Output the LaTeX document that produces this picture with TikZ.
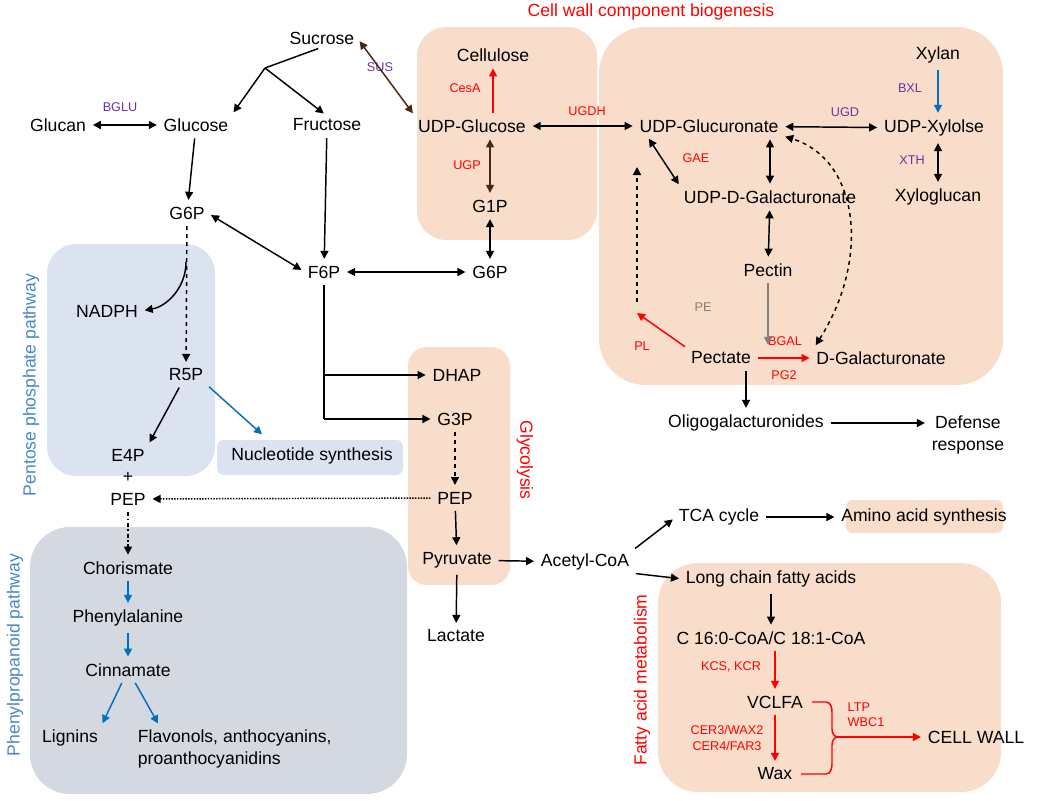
\documentclass[tikz,border=0pt]{standalone}
\usepackage{fontspec}
\setmainfont{Liberation Sans}
\usetikzlibrary{arrows.meta,positioning,calc}
\definecolor{peach}{RGB}{248,222,202}
\definecolor{ppblue}{RGB}{219,227,240}
\definecolor{ppgray}{RGB}{212,217,225}
\definecolor{enzpurple}{RGB}{112,48,160}
\definecolor{pathblue}{RGB}{74,134,200}
\definecolor{arrblue}{RGB}{0,112,192}
\definecolor{brownish}{RGB}{70,40,20}
\tikzset{
  met/.style={font=\fontsize{13.2}{16}\selectfont,inner sep=2pt},
  enz/.style={font=\fontsize{9.5}{11.5}\selectfont,inner sep=1pt},
  arr/.style={-{Triangle[length=6pt,width=6pt]},line width=1.1pt,shorten >=3pt,shorten <=3pt},
  darr/.style={{Triangle[length=6pt,width=6pt]}-{Triangle[length=6pt,width=6pt]},line width=1.1pt,shorten >=3pt,shorten <=3pt},
  box/.style={rounded corners=22pt}
}
\begin{document}
\begin{tikzpicture}[x=0.75pt,y=-0.75pt]
\useasboundingbox (0,0) rectangle (1039,800);
% backgrounds
\fill[ppblue,box] (47,244) rectangle (215,476);
\fill[ppblue,rounded corners=5pt] (217,440) rectangle (403,475);
\fill[ppgray,rounded corners=30pt] (30,527) rectangle (407,794);
\fill[peach,box] (417,27) rectangle (597,240);
\fill[peach,rounded corners=35pt] (599,27) rectangle (1003,385);
\fill[peach,rounded corners=14pt] (408,347) rectangle (510,585);
\fill[peach,rounded corners=30pt] (658,563) rectangle (1001,792);
\fill[peach,rounded corners=5pt] (846,500) rectangle (1003,533);
% titles
\node[met,red] at (651,12) {Cell wall component biogenesis};
\node[met,pathblue,rotate=90] at (31,385) {Pentose phosphate pathway};
\node[met,pathblue,rotate=90] at (15,655) {Phenylpropanoid pathway};
\node[met,red,rotate=-90] at (525,460) {Glycolysis};
\node[met,red,rotate=90] at (642,680) {Fatty acid metabolism};
% metabolites
\node[met] (suc) at (322,38) {Sucrose};
\node[met] (glucan) at (58,125) {Glucan};
\node[met] (glc) at (196,125) {Glucose};
\node[met] (fru) at (327,125) {Fructose};
\node[met] (cell) at (493,55) {Cellulose};
\node[met] (udpg) at (472,126) {UDP-Glucose};
\node[met] (g1p) at (490,206) {G1P};
\node[met] (udpgu) at (709,126) {UDP-Glucuronate};
\node[met] (udpga) at (770,197) {UDP-D-Galacturonate};
\node[met] (pectin) at (768,270) {Pectin};
\node[met] (pectate) at (721,358) {Pectate};
\node[met] (dgal) at (881,358) {D-Galacturonate};
\node[met] (xylan) at (938,55) {Xylan};
\node[met] (udpx) at (934,128) {UDP-Xylolse};
\node[met] (xyg) at (938,197) {Xyloglucan};
\node[met] (g6pl) at (187,213) {G6P};
\node[met] (f6p) at (324,272) {F6P};
\node[met] (g6pr) at (490,272) {G6P};
\node[met] (nadph) at (107,311) {NADPH};
\node[met] (r5p) at (186,375) {R5P};
\node[met] (e4p) at (128,455) {E4P};
\node[met] (plus) at (128,477) {+};
\node[met] (pepl) at (128,499) {PEP};
\node[met] (nuc) at (312,456) {Nucleotide synthesis};
\node[met] (dhap) at (457,375) {DHAP};
\node[met] (g3p) at (455,419) {G3P};
\node[met] (pep) at (455,498) {PEP};
\node[met] (pyr) at (457,560) {Pyruvate};
\node[met] (lac) at (456,636) {Lactate};
\node[met] (acoa) at (585,562) {Acetyl-CoA};
\node[met] (tca) at (719,517) {TCA cycle};
\node[met] (amino) at (924,517) {Amino acid synthesis};
\node[met] (lcfa) at (771,579) {Long chain fatty acids};
\node[met] (c16) at (771,638) {C 16:0-CoA/C 18:1-CoA};
\node[met] (vclfa) at (775,702) {VCLFA};
\node[met] (wax) at (775,774) {Wax};
\node[met] (cw) at (976,737) {CELL WALL};
\node[met] (oligo) at (746,423) {Oligogalacturonides};
\node[met,align=center] (def) at (968,435) {Defense\\response};
\node[met] (chor) at (128,568) {Chorismate};
\node[met] (phe) at (128,618) {Phenylalanine};
\node[met] (cin) at (128,670) {Cinnamate};
\node[met] (lig) at (70,738) {Lignins};
\node[met,align=left,anchor=west] (flav) at (135,749) {Flavonols, anthocyanins,\\proanthocyanidins};
% enzymes
\node[enz,enzpurple] at (120,107) {BGLU};
\node[enz,enzpurple] at (380,67) {SUS};
\node[enz,red] at (465,88) {CesA};
\node[enz,red] at (467,165) {UGP};
\node[enz,red] at (587,111) {UGDH};
\node[enz,red] at (696,158) {GAE};
\node[enz,gray] at (703,307) {PE};
\node[enz,red] at (642,346) {PL};
\node[enz,red] at (785,341) {BGAL};
\node[enz,red] at (784,375) {PG2};
\node[enz,enzpurple] at (910,88) {BXL};
\node[enz,enzpurple] at (845,112) {UGD};
\node[enz,enzpurple] at (912,160) {XTH};
\node[enz,red] at (731,667) {KCS, KCR};
\node[enz,red,align=center] at (727,738) {CER3/WAX2\\CER4/FAR3};
\node[enz,red,align=left] at (866,715) {LTP\\WBC1};
% connectors
\coordinate (sbr) at (265,68);
\draw[line width=1.1pt,shorten <=3pt] (suc.south) -- (sbr);
\draw[arr,shorten <=0pt] (sbr) -- (glc.north east);
\draw[arr,shorten <=0pt] (sbr) -- (fru.north);
\draw[darr] (glucan) -- (glc);
\draw[darr,brownish] (suc.east) -- (udpg.north west);
\draw[arr] (glc) -- (g6pl);
\draw[arr] (fru) -- (f6p);
\draw[darr] (g6pl.east) -- (f6p.west);
\draw[darr] (f6p) -- (g6pr);
\draw[darr] (g6pr) -- (g1p);
\draw[darr,brownish] (g1p) -- (udpg.south -| g1p);
\draw[arr,red] (udpg.north -| cell) -- (cell);
\draw[darr] (udpg) -- (udpgu);
\draw[darr] (udpgu) -- (udpx);
\draw[arr,arrblue] (xylan) -- (udpx.north -| xylan);
\draw[darr] (udpx.south -| xyg) -- (xyg);
\draw[darr] (udpgu.south -| udpga) -- (udpga);
\draw[darr] (udpga.north west) -- ($(udpgu.south west)+(10,0)$);
\draw[darr] (udpga) -- (pectin);
\draw[arr,gray] (pectin) -- (pectate.north -| pectin);
\coordinate (plend) at (637,313);
\draw[line width=1.1pt,red,-{Triangle[length=6pt,width=6pt]},shorten <=3pt] (pectate.north west) -- (plend);
\draw[arr,dashed] (637,306) -- (637,163);
\draw[arr,red] (pectate) -- (dgal);
\draw[darr,dashed] (dgal.north west) .. controls (870,260) and (860,160) .. (udpgu.south east);
\draw[arr] (pectate.south -| oligo) -- (oligo);
\draw[arr] (oligo) -- (def.west |- oligo);
% glycolysis
\coordinate (fbr) at (330,419);
\draw[line width=1.1pt,shorten <=3pt] (f6p) -- (f6p.south |- fbr);
\draw[arr,shorten <=0pt] (f6p.south |- dhap) -- (dhap);
\draw[arr,shorten <=0pt] (f6p.south |- fbr) -- (g3p);
\draw[arr,dashed] (g3p) -- (pep);
\draw[arr] (pep) -- (pyr);
\draw[arr] (pyr) -- (lac);
\draw[arr,densely dotted] (pep) -- (pepl);
\draw[arr] (pyr) -- (acoa);
\draw[arr] (acoa.north east) -- (tca.west);
\draw[arr] (acoa.south east) -- (lcfa.west);
\draw[arr] (tca) -- (amino);
\draw[arr] (lcfa.south -| c16) -- (c16);
\draw[arr,red] (c16.south -| vclfa) -- (vclfa);
\draw[arr,red] (vclfa) -- (wax);
% brace
\coordinate (brk) at (838,737);
\draw[line width=1.1pt,red] ($(vclfa.east)+(6,0)$) -- (826,702) to[out=0,in=90] (832,712) -- (832,729) to[out=-90,in=180] (brk);
\draw[line width=1.1pt,red] ($(wax.east)+(6,0)$) -- (826,774) to[out=0,in=-90] (832,764) -- (832,745) to[out=90,in=180] (brk);
\draw[arr,red,shorten <=0pt] (brk) -- (cw.west);
% pentose phosphate
\draw[arr,dashed] (g6pl) -- (r5p);
\draw[arr,shorten <=0pt] (186,262) to[out=-90,in=10] (nadph.east);
\draw[arr] (r5p) -- (e4p.north east);
\draw[arr,arrblue] (r5p.south east) -- (265,437);
\draw[arr,dashdotted] (pepl) -- (chor);
\draw[arr,arrblue] (chor) -- (phe);
\draw[arr,arrblue] (phe) -- (cin);
\draw[arr,arrblue] (cin) -- (lig.north east);
\draw[arr,arrblue] (cin) -- (160,727);
\end{tikzpicture}
\end{document}
